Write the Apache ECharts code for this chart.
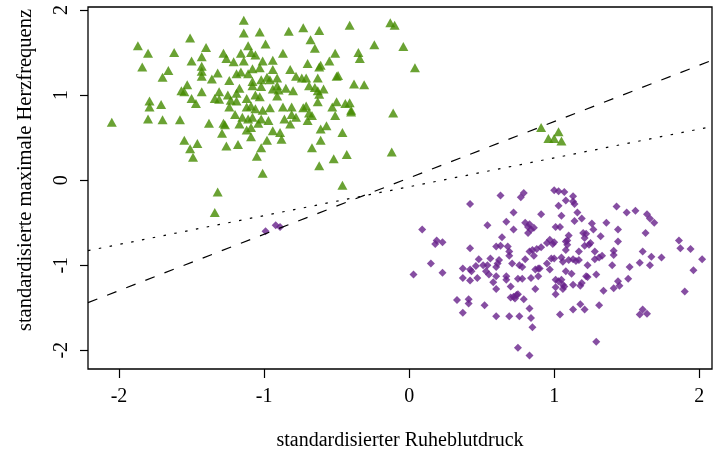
<!DOCTYPE html>
<html>
<head>
<meta charset="utf-8">
<script src="https://cdn.jsdelivr.net/npm/echarts@6/dist/echarts.min.js"></script>
<style>
  html, body { margin: 0; padding: 0; background: #fff; }
  #chart { width: 714px; height: 450px; }
</style>
</head>
<body>
<div id="chart"></div>
<script>
// Tick positions on both axes
const xTicks = [-2, -1, 0, 1, 2];
const yTicks = [-2, -1, 0, 1, 2];

// Axis extents (standardised units)
const xRange = [-2.214, 2.088];
const yRange = [-2.22, 2.035];

// Separating lines: [intercept, slope]
const geradeGestrichelt = [0.026, 0.662];
const geradeGepunktet = [-0.078, 0.339];

// Group with high maximal heart rate (triangles)
const gruppeHoch = [
  [-1.14,1.88],[-0.13,1.85],[-0.10,1.82],[-1.03,1.74],[-0.83,1.75],[-0.73,1.79],[-0.62,1.76],[-0.41,1.82],
  [-1.14,1.73],[-1.51,1.67],[-0.68,1.65],[-1.87,1.58],[-1.40,1.56],[-1.11,1.58],[-0.99,1.60],[-0.65,1.55],
  [-0.24,1.59],[-0.04,1.57],[-1.80,1.49],[-1.62,1.50],[-1.28,1.49],[-1.26,1.43],[-1.21,1.39],[-1.16,1.49],
  [-1.09,1.50],[-1.06,1.47],[-0.87,1.49],[-0.51,1.49],[-0.35,1.50],[-0.34,1.43],[-1.43,1.45],[-1.50,1.40],
  [-1.14,1.40],[-1.01,1.40],[-0.94,1.41],[-0.70,1.37],[-0.61,1.35],[-0.55,1.40],[-1.84,1.33],[-1.43,1.34],
  [-1.43,1.28],[-1.43,1.22],[-1.08,1.31],[-1.03,1.32],[-0.94,1.30],[-0.82,1.30],[-0.62,1.33],[-1.66,1.29],
  [-1.32,1.26],[-1.19,1.25],[-1.16,1.27],[-1.11,1.25],[-1.70,1.21],[-1.36,1.19],[-1.24,1.17],[-1.08,1.16],
  [-1.02,1.18],[-0.98,1.21],[-0.96,1.18],[-0.91,1.20],[-0.78,1.22],[-0.74,1.20],[-0.71,1.20],[-0.63,1.20],
  [-0.50,1.22],[-0.49,1.23],[-0.38,1.13],[-0.31,1.12],[-1.53,1.12],[-1.57,1.05],[-1.55,1.04],[-1.43,1.04],
  [-1.31,1.04],[-1.17,1.08],[-1.08,1.11],[-1.02,1.10],[-0.94,1.07],[-0.91,1.11],[-0.90,1.06],[-0.85,1.08],
  [-0.80,1.05],[-0.69,1.11],[-0.65,1.09],[-0.63,1.05],[-0.59,1.07],[-0.62,1.01],[-1.25,1.00],[-1.19,1.02],
  [-1.12,0.96],[-1.06,1.00],[-1.03,0.98],[-0.91,0.99],[-1.34,0.96],[-1.31,0.95],[-1.50,0.96],[-1.47,0.90],
  [-1.79,0.93],[-1.23,0.94],[-1.19,0.93],[-0.63,0.92],[-1.79,0.86],[-1.71,0.89],[-0.50,0.92],[-0.44,0.90],
  [-0.41,0.91],[-1.24,0.86],[-1.12,0.86],[-1.09,0.87],[-1.06,0.84],[-1.01,0.82],[-0.96,0.85],[-0.87,0.86],
  [-0.81,0.86],[-0.73,0.85],[-0.71,0.87],[-0.53,0.86],[-0.40,0.82],[-0.40,0.80],[-0.69,0.79],[-1.20,0.77],
  [-1.15,0.74],[-1.11,0.72],[-1.08,0.74],[-1.02,0.72],[-0.97,0.70],[-0.86,0.72],[-0.81,0.77],[-0.78,0.74],
  [-0.67,0.76],[-0.70,0.70],[-0.51,0.76],[-0.11,0.79],[-2.05,0.68],[-1.80,0.72],[-1.70,0.71],[-1.58,0.71],
  [-1.38,0.67],[-1.28,0.67],[-1.27,0.65],[-1.17,0.66],[-1.04,0.67],[-0.82,0.66],[-1.12,0.59],[-1.09,0.62],
  [-0.94,0.58],[-0.89,0.56],[-0.61,0.60],[-0.57,0.64],[-0.46,0.56],[-1.29,0.55],[-1.09,0.51],[-0.88,0.48],
  [-0.98,0.47],[-0.61,0.47],[-1.55,0.47],[-1.46,0.43],[-1.51,0.37],[-1.49,0.27],[-1.26,0.40],[-1.18,0.42],
  [-1.02,0.38],[-0.67,0.38],[-0.43,0.30],[-0.12,0.33],[-1.05,0.28],[-0.52,0.25],[-0.62,0.17],[-1.01,0.08],
  [-0.46,-0.06],[-1.32,-0.14],[-1.34,-0.38],[0.04,1.32],[0.91,0.62],[0.96,0.49],[1.00,0.49],[1.03,0.57],
  [1.05,0.46]
];

// Group with low maximal heart rate (diamonds)
const gruppeTief = [
  [0.63,-0.18],[0.77,-0.20],[0.79,-0.15],[1.00,-0.12],[1.03,-0.13],[1.07,-0.14],[1.13,-0.19],[1.08,-0.24],
  [1.13,-0.25],[1.14,-0.28],[0.42,-0.28],[0.72,-0.38],[0.91,-0.40],[1.03,-0.30],[1.05,-0.42],[1.16,-0.38],
  [1.19,-0.45],[1.14,-0.48],[1.43,-0.31],[1.50,-0.38],[1.56,-0.36],[1.64,-0.40],[1.66,-0.45],[1.69,-0.50],
  [0.09,-0.58],[0.54,-0.53],[0.67,-0.49],[0.72,-0.58],[0.80,-0.50],[0.82,-0.55],[0.83,-0.52],[0.84,-0.58],
  [0.82,-0.62],[0.86,-0.56],[1.01,-0.55],[1.04,-0.55],[1.26,-0.51],[1.27,-0.58],[1.36,-0.50],[1.44,-0.58],
  [1.63,-0.62],[1.20,-0.62],[1.22,-0.63],[1.21,-0.68],[1.32,-0.66],[1.44,-0.72],[0.19,-0.71],[0.18,-0.75],
  [0.23,-0.73],[0.42,-0.80],[0.64,-0.67],[0.60,-0.78],[0.63,-0.77],[0.68,-0.78],[0.69,-0.84],[0.69,-0.89],
  [0.85,-0.82],[0.88,-0.81],[0.91,-0.79],[0.83,-0.84],[0.86,-0.89],[0.95,-0.74],[0.97,-0.70],[0.99,-0.75],
  [1.00,-0.73],[1.08,-0.72],[1.09,-0.76],[1.10,-0.65],[1.08,-0.82],[1.17,-0.84],[1.21,-0.77],[1.24,-0.76],
  [1.25,-0.74],[1.28,-0.84],[1.41,-0.83],[1.41,-0.88],[1.61,-0.84],[1.67,-0.90],[1.74,-0.91],[1.86,-0.71],
  [1.87,-0.80],[1.94,-0.81],[2.02,-0.93],[0.48,-0.93],[0.56,-0.92],[0.62,-0.94],[0.46,-1.01],[0.51,-1.00],
  [0.54,-1.00],[0.53,-1.07],[0.37,-1.04],[0.42,-1.05],[0.43,-1.07],[0.15,-0.98],[0.23,-1.09],[0.03,-1.11],
  [0.60,-1.02],[0.61,-0.98],[0.71,-0.98],[0.76,-1.00],[0.78,-1.02],[0.80,-0.93],[0.87,-1.05],[0.89,-1.04],
  [0.90,-1.04],[0.95,-0.98],[0.98,-0.92],[1.00,-0.92],[0.97,-1.05],[1.05,-0.91],[1.06,-0.96],[1.10,-0.94],
  [1.13,-0.93],[1.15,-0.95],[1.17,-0.94],[1.23,-1.00],[1.28,-0.93],[1.31,-0.91],[1.33,-0.89],[1.40,-1.00],
  [1.52,-1.02],[1.59,-0.97],[1.66,-1.00],[0.37,-1.15],[0.42,-1.18],[0.47,-1.15],[0.58,-1.20],[0.60,-1.13],
  [0.55,-1.11],[0.67,-1.13],[0.67,-1.17],[0.75,-1.16],[0.78,-1.16],[0.84,-1.15],[0.89,-1.13],[1.01,-1.17],
  [1.03,-1.19],[1.06,-1.23],[1.12,-1.10],[1.13,-1.23],[1.19,-1.21],[1.18,-1.24],[1.22,-1.13],[1.23,-1.14],
  [1.29,-1.11],[1.51,-1.16],[1.44,-1.19],[1.45,-1.24],[1.41,-1.27],[0.70,-1.25],[0.60,-1.28],[0.87,-1.28],
  [1.01,-1.26],[1.01,-1.34],[1.07,-1.25],[1.06,-1.28],[1.34,-1.30],[1.90,-1.31],[1.96,-1.06],[0.33,-1.41],
  [0.41,-1.40],[0.41,-1.45],[0.52,-1.47],[0.37,-1.56],[0.70,-1.38],[0.72,-1.37],[0.74,-1.35],[0.75,-1.34],
  [0.73,-1.39],[0.79,-1.40],[0.83,-1.51],[0.84,-1.62],[0.85,-1.73],[0.60,-1.60],[0.69,-1.60],[0.76,-1.60],
  [1.04,-1.58],[1.13,-1.52],[1.18,-1.46],[1.21,-1.52],[1.31,-1.47],[1.61,-1.52],[1.59,-1.58],[1.64,-1.57],
  [0.75,-1.97],[0.83,-2.06],[1.29,-1.90],[1.08,-1.07],[1.05,-1.17],[1.09,-0.71],
  [-0.99,-0.60],[-0.92,-0.53],[-0.89,-0.55]
];

// Endpoints of a straight line across the full x extent
function geradeDaten(g) {
  return xRange.map(x => [x, g[0] + g[1] * x]);
}

const schrift = 'Liberation Serif, Times New Roman, serif';

const chart = echarts.init(document.getElementById('chart'), null, { renderer: 'canvas' });
chart.setOption({
  animation: false,
  backgroundColor: '#ffffff',
  grid: {
    left: 88, right: 2, top: 7, bottom: 81,
    outerBoundsMode: 'none',
    show: true, borderColor: '#000', borderWidth: 1.3, backgroundColor: 'transparent'
  },
  xAxis: {
    type: 'value',
    min: xRange[0], max: xRange[1],
    splitLine: { show: false },
    axisLine: { show: false, onZero: false },
    axisTick: { show: true, inside: false, length: 9, customValues: xTicks, lineStyle: { color: '#000', width: 1.2 } },
    axisLabel: { customValues: xTicks, color: '#000', fontFamily: schrift, fontSize: 20, margin: 18 },
    name: 'standardisierter Ruheblutdruck',
    nameLocation: 'middle', nameGap: 62,
    nameTextStyle: { color: '#000', fontFamily: schrift, fontSize: 20 }
  },
  yAxis: {
    type: 'value',
    min: yRange[0], max: yRange[1],
    splitLine: { show: false },
    axisLine: { show: false, onZero: false },
    axisTick: { show: true, inside: false, length: 8, customValues: yTicks, lineStyle: { color: '#000', width: 1.2 } },
    axisLabel: { customValues: yTicks, rotate: 90, color: '#000', fontFamily: schrift, fontSize: 20, margin: 16 },
    name: 'standardisierte maximale Herzfrequenz',
    nameLocation: 'middle', nameGap: 52,
    nameTextStyle: { color: '#000', fontFamily: schrift, fontSize: 20.5, padding: [0, 0, 0, 36] }
  },
  series: [
    {
      type: 'scatter', data: gruppeHoch, symbol: 'triangle', symbolSize: [10, 9],
      itemStyle: { color: '#458B00' }, silent: true
    },
    {
      type: 'scatter', data: gruppeTief, symbol: 'diamond', symbolSize: [8, 8],
      itemStyle: { color: '#68228B' }, silent: true
    },
    {
      type: 'line', data: geradeDaten(geradeGestrichelt), showSymbol: false, clip: true,
      lineStyle: { color: '#000', width: 1.2, type: [10, 10.5] }, silent: true
    },
    {
      type: 'line', data: geradeDaten(geradeGepunktet), showSymbol: false, clip: true,
      lineStyle: { color: '#000', width: 1.2, type: [2.5, 8.5] }, silent: true
    }
  ]
});
</script>
</body>
</html>
